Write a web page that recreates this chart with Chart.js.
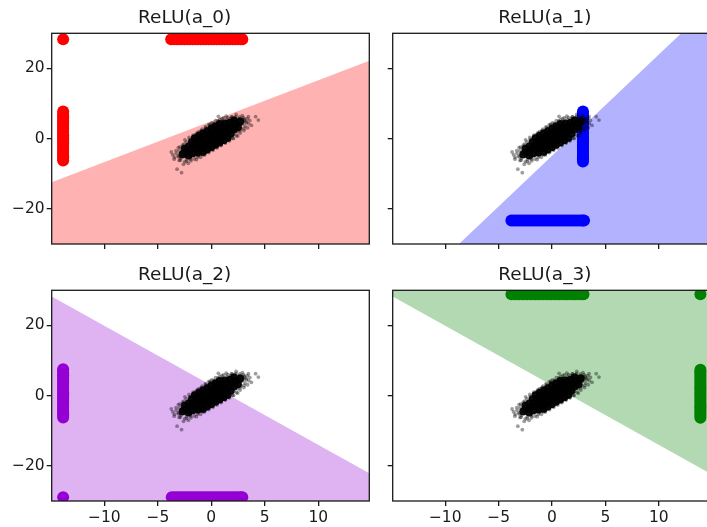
<!DOCTYPE html>
<html>
<head>
<meta charset="utf-8">
<title>ReLU regions</title>
<script src="https://cdn.jsdelivr.net/npm/chart.js@4.4.1/dist/chart.umd.min.js"></script>
<style>
  html, body { margin: 0; padding: 0; width: 707px; height: 527px; overflow: hidden; background: #fff; }
  canvas { position: absolute; }
</style>
</head>
<body>
<canvas id="relu0" width="380" height="272" style="left:0px;top:0px"></canvas>
<canvas id="relu1" width="345" height="272" style="left:380px;top:0px"></canvas>
<canvas id="relu2" width="380" height="272" style="left:0px;top:257.4px"></canvas>
<canvas id="relu3" width="345" height="272" style="left:380px;top:257.4px"></canvas>
<script>
"use strict";

const titles = ['ReLU(a_0)', 'ReLU(a_1)', 'ReLU(a_2)', 'ReLU(a_3)'];
const xTicks = [-10, -5, 0, 5, 10];
const yTicks = [-20, 0, 20];
const xRange = [-14.92, 14.77];
const yRange = [-30, 30];

// input cloud, same in every panel (dense middle + loose edge)
const cloudCore = [
    [-2.70, -4.50],
    [-2.50, -2.85], [-2.31, -3.83], [-2.12, -4.81],
    [-2.12, -2.18], [-1.93, -3.16], [-1.74, -4.14],
    [-1.82, -1.01], [-1.63, -2.00], [-1.45, -2.98], [-1.26, -3.97],
    [-1.54, 0.16], [-1.35, -0.83], [-1.16, -1.81], [-0.97, -2.79], [-0.78, -3.78],
    [-1.15, 0.83], [-0.96, -0.16], [-0.77, -1.14], [-0.58, -2.12], [-0.39, -3.11],
    [-0.77, 1.50], [-0.58, 0.51], [-0.39, -0.47], [-0.20, -1.45], [-0.01, -2.44],
    [-0.38, 2.17], [-0.19, 1.18], [0.00, 0.20], [0.19, -0.78], [0.38, -1.77],
    [0.01, 2.84], [0.20, 1.85], [0.39, 0.87], [0.58, -0.11], [0.77, -1.10],
    [0.39, 3.51], [0.58, 2.52], [0.77, 1.54], [0.96, 0.56], [1.15, -0.43],
    [0.78, 4.18], [0.97, 3.19], [1.16, 2.21], [1.35, 1.23], [1.54, 0.24],
    [1.26, 4.37], [1.45, 3.38], [1.63, 2.40], [1.82, 1.41],
    [1.74, 4.54], [1.93, 3.56], [2.12, 2.58],
    [2.12, 5.21], [2.31, 4.23], [2.50, 3.25],
    [2.70, 4.90]
];
const cloudHalo = [
    [-1.39, -5.99], [-2.47, -0.33], [-1.00, -5.32], [-2.08, 0.34], [-0.62, -4.64], [-1.70, 1.02],
    [-0.23, -3.97], [-1.31, 1.69], [0.15, -3.30], [-0.93, 2.36], [0.54, -2.63], [-0.54, 3.03],
    [0.93, -1.96], [-0.15, 3.70], [1.31, -1.29], [0.23, 4.37], [1.70, -0.62], [0.62, 5.04],
    [2.08, 0.06], [1.00, 5.72], [2.47, 0.73], [1.39, 6.39],
    [-2.32, -6.47], [-3.08, -2.53], [-1.93, -5.80], [-2.69, -1.86], [2.69, 2.26], [1.93, 6.20],
    [3.08, 2.93], [2.32, 6.87], [3.09, 5.57], [-3.09, -5.17], [3.28, 4.59], [2.90, 6.55],
    [-2.90, -6.15], [-3.28, -4.19], [3.47, 6.24], [-3.47, -5.84],
    [-3.74, -3.8], [-3.6, -4.6], [-3.45, -5.3], [-3.3, -3.4], [-3.2, -8.7], [-2.78, -9.7], [-3.1, -4.9],
    [-3.0, -6.2], [-2.95, -2.4], [-2.85, -5.6], [-2.75, -3.9], [-2.6, -7.3], [-2.55, -1.6], [-2.5, -6.6],
    [-2.45, -4.8], [-2.35, -0.9], [-2.3, -5.9], [-2.2, -2.9], [-2.15, -7.0], [-2.05, -0.3], [-2.0, -5.2],
    [-1.9, -6.3], [-1.85, -1.8], [-1.75, 0.4], [-1.7, -4.9], [-1.6, -5.8], [-1.55, -0.2], [-1.45, 1.2],
    [-1.4, -4.4], [-1.3, -5.3], [-1.25, 0.8], [-1.15, 2.0], [-1.1, -4.0], [-1.0, -3.5], [-0.95, 1.6],
    [-0.85, 2.7], [-0.8, -4.6], [-0.7, -3.1], [-0.65, 2.2], [-0.55, 3.4], [-0.5, -3.7], [-0.4, -2.6],
    [-0.35, 3.0], [-0.25, 4.0], [-0.2, -3.2], [-0.1, -2.2], [0.0, 3.6], [0.05, 4.5], [0.15, -2.7],
    [0.25, -1.9], [0.3, 4.2], [0.4, 5.1], [0.5, -2.2], [0.6, -1.3], [0.66, 6.35], [0.7, 4.6], [0.8, 5.5],
    [0.9, -1.7], [1.0, -0.8], [1.05, 5.0], [1.15, 5.9], [1.25, -1.0], [1.35, -0.1], [1.45, 5.4],
    [1.55, 6.0], [1.6, -0.5], [1.7, 0.6], [1.8, 5.7], [1.9, 6.2], [2.0, 0.1], [2.1, 1.2], [2.2, 5.9],
    [2.3, 6.3], [2.35, 0.9], [2.45, 2.0], [2.55, 5.6], [2.65, 6.2], [2.7, 1.6], [2.8, 2.8], [2.9, 5.2],
    [3.0, 6.0], [3.05, 2.3], [3.15, 3.6], [3.25, 4.9], [3.35, 5.7], [3.4, 3.1], [3.5, 4.3], [3.6, 5.2],
    [3.75, 3.8], [4.14, 6.27], [4.4, 5.3],
    [-2.7, -4.4], [-2.6, -3.2], [-2.3, -4.0], [-2.1, -3.6], [-1.95, -2.5], [-1.7, -3.4], [-1.5, -1.1],
    [-1.3, -2.6], [-1.05, -0.2], [-0.9, -2.2], [-0.6, 0.9], [-0.45, -1.4], [-0.2, 1.9], [0.0, -0.5],
    [0.2, 2.8], [0.45, -0.3], [0.55, 3.3], [0.85, 0.3], [0.95, 3.9], [1.2, 0.9], [1.3, 4.3], [1.6, 1.6],
    [1.7, 4.9], [1.95, 2.2], [2.05, 5.2], [2.3, 2.9], [2.5, 4.9], [2.6, 3.4], [2.85, 4.1], [3.0, 4.6],
    [3.1, 5.3], [-3.0, -3.5], [-2.4, -2.2], [1.4, -0.4], [-1.2, -4.8], [2.75, 5.7], [-0.1, 4.1], [0.35, -1.6]
];

// ReLU(a_0): column at the left edge, band at the top, one dot in the corner
const redColumnX = -13.85;
const redColumnY = [-6.2, -5.6, -5.0, -4.4, -3.8, -3.2, -2.6, -2.0, -1.4, -0.8, -0.2, 0.4, 1.0, 1.6,
    2.2, 2.8, 3.4, 4.0, 4.6, 5.2, 5.8, 6.4, 7.0, 7.7];
const redBandY = 28.3;
const redBandX = [-3.75, -3.5, -3.25, -3.0, -2.75, -2.5, -2.25, -2.0, -1.75, -1.5, -1.25, -1.0, -0.75,
    -0.5, -0.25, 0, 0.25, 0.5, 0.75, 1.0, 1.25, 1.5, 1.75, 2.0, 2.25, 2.5, 2.75, 2.9];
const redCorner = [[-13.85, 28.3]];
const redBoundary = [[-14.92, -12.45], [14.77, 22.2]];

// ReLU(a_1)
const blueColumnX = 2.9;
const blueColumnY = [-6.5, -5.9, -5.3, -4.7, -4.1, -3.5, -2.9, -2.3, -1.7, -1.1, -0.5, 0.1, 0.7, 1.3,
    1.9, 2.5, 3.1, 3.7, 4.3, 4.9, 5.5, 6.1, 6.7, 7.2, 7.7];
const blueBandY = -23.3;
const blueBandX = [-3.8, -3.55, -3.3, -3.05, -2.8, -2.55, -2.3, -2.05, -1.8, -1.55, -1.3, -1.05, -0.8,
    -0.55, -0.3, -0.05, 0.2, 0.45, 0.7, 0.95, 1.2, 1.45, 1.7, 1.95, 2.2, 2.45, 2.7, 3.0];
const blueCorner = [[2.9, -23.3]];
const blueBoundary = [[-14.92, -47.9], [14.77, 37.7]];

// ReLU(a_2)
const purpleColumnX = -13.85;
const purpleColumnY = [-6.2, -5.6, -5.0, -4.4, -3.8, -3.2, -2.6, -2.0, -1.4, -0.8, -0.2, 0.4, 1.0, 1.6,
    2.2, 2.8, 3.4, 4.0, 4.6, 5.2, 5.8, 6.4, 7.0, 7.5];
const purpleBandY = -28.9;
const purpleBandX = [-3.7, -3.45, -3.2, -2.95, -2.7, -2.45, -2.2, -1.95, -1.7, -1.45, -1.2, -0.95, -0.7,
    -0.45, -0.2, 0.05, 0.3, 0.55, 0.8, 1.05, 1.3, 1.55, 1.8, 2.05, 2.3, 2.55, 2.75, 2.9];
const purpleCorner = [[-13.85, -28.9]];
const purpleBoundary = [[-14.92, 28.2], [14.77, -22.1]];

// ReLU(a_3)
const greenColumnX = 13.9;
const greenColumnY = [-6.3, -5.7, -5.1, -4.5, -3.9, -3.3, -2.7, -2.1, -1.5, -0.9, -0.3, 0.3, 0.9, 1.5,
    2.1, 2.7, 3.3, 3.9, 4.5, 5.1, 5.7, 6.3, 6.9, 7.4];
const greenBandY = 28.9;
const greenBandX = [-3.8, -3.55, -3.3, -3.05, -2.8, -2.55, -2.3, -2.05, -1.8, -1.55, -1.3, -1.05, -0.8,
    -0.55, -0.3, -0.05, 0.2, 0.45, 0.7, 0.95, 1.2, 1.45, 1.7, 1.95, 2.2, 2.45, 2.7, 2.95];
const greenCorner = [[13.9, 28.9]];
const greenBoundary = [[-14.92, 28.2], [14.77, -22.1]];

function column(x, ys) {
    return ys.map(function (y) { return [x, y]; });
}
function band(xs, y) {
    return xs.map(function (x) { return [x, y]; });
}

const panels = [
    {id: 'relu0', color: '#ff0000', shade: 'rgba(255,0,0,0.3)', boundary: redBoundary, side: 'start',
     marks: [column(redColumnX, redColumnY), band(redBandX, redBandY), redCorner], leftCol: true, bottomRow: false},
    {id: 'relu1', color: '#0000ff', shade: 'rgba(0,0,255,0.3)', boundary: blueBoundary, side: 'start',
     marks: [column(blueColumnX, blueColumnY), band(blueBandX, blueBandY), blueCorner], leftCol: false, bottomRow: false},
    {id: 'relu2', color: '#9400d3', shade: 'rgba(148,0,211,0.3)', boundary: purpleBoundary, side: 'start',
     marks: [column(purpleColumnX, purpleColumnY), band(purpleBandX, purpleBandY), purpleCorner], leftCol: true, bottomRow: true},
    {id: 'relu3', color: '#008000', shade: 'rgba(0,128,0,0.3)', boundary: greenBoundary, side: 'end',
     marks: [column(greenColumnX, greenColumnY), band(greenBandX, greenBandY), greenCorner], leftCol: false, bottomRow: true}
];

const FONT = 'DejaVu Sans';
const INK = '#1a1a1a';

function pts(arr) {
    return arr.map(function (p) { return {x: p[0], y: p[1]}; });
}

function minusSign(v) {
    return String(v).replace('-', '\u2212');
}

// axes box like matplotlib spines
const frame = {
    id: 'frame',
    afterDraw: function (chart) {
        const a = chart.chartArea;
        const ctx = chart.ctx;
        ctx.save();
        ctx.strokeStyle = INK;
        ctx.lineWidth = 1.3;
        ctx.strokeRect(a.left, a.top, a.right - a.left, a.bottom - a.top);
        ctx.restore();
    }
};

panels.forEach(function (p, i) {
    const ctx = document.getElementById(p.id).getContext('2d');
    const datasets = [];

    // shaded half plane where the unit is active
    datasets.push({
        type: 'line',
        data: pts(p.boundary),
        showLine: true,
        borderWidth: 0,
        pointRadius: 0,
        backgroundColor: p.shade,
        fill: p.side,
        order: 4
    });

    p.marks.forEach(function (m) {
        datasets.push({
            data: pts(m),
            pointRadius: 6,
            pointHoverRadius: 6,
            pointBorderWidth: 0,
            pointBackgroundColor: p.color,
            clip: 0,
            order: 3
        });
    });

    datasets.push({
        data: pts(cloudHalo),
        pointRadius: 1.9,
        pointHoverRadius: 1.9,
        pointBorderWidth: 0,
        pointBackgroundColor: 'rgba(0,0,0,0.38)',
        clip: 0,
        order: 2
    });
    datasets.push({
        data: pts(cloudCore),
        pointRadius: 3.9,
        pointHoverRadius: 3.9,
        pointBorderWidth: 0,
        pointBackgroundColor: 'rgba(0,0,0,0.95)',
        clip: 0,
        order: 1
    });

    new Chart(ctx, {
        type: 'scatter',
        data: {datasets: datasets},
        options: {
            responsive: false,
            animation: false,
            devicePixelRatio: 1,
            events: [],
            layout: {padding: {top: 0, left: 0, right: p.leftCol ? 10.7 : 15.3, bottom: 0}},
            plugins: {
                legend: {display: false},
                tooltip: {enabled: false},
                title: {
                    display: true,
                    text: titles[i],
                    color: INK,
                    font: {family: FONT, size: 18.5, weight: 'normal'},
                    padding: {top: 7.2, bottom: 3.9}
                }
            },
            scales: {
                x: {
                    type: 'linear',
                    min: xRange[0],
                    max: xRange[1],
                    afterBuildTicks: function (axis) {
                        axis.ticks = xTicks.map(function (v) { return {value: v}; });
                    },
                    afterFit: function (axis) { axis.height = 28; },
                    border: {display: false},
                    grid: {drawOnChartArea: false, drawTicks: true, tickLength: 5, color: INK, lineWidth: 1.3},
                    ticks: {
                        display: p.bottomRow,
                        color: INK,
                        padding: 3,
                        maxRotation: 0,
                        font: {family: FONT, size: 15.5},
                        callback: function (v) { return minusSign(v); }
                    }
                },
                y: {
                    type: 'linear',
                    min: yRange[0],
                    max: yRange[1],
                    afterBuildTicks: function (axis) {
                        axis.ticks = yTicks.map(function (v) { return {value: v}; });
                    },
                    afterFit: function (axis) { axis.width = p.leftCol ? 51.7 : 12.7; },
                    border: {display: false},
                    grid: {drawOnChartArea: false, drawTicks: true, tickLength: 5, color: INK, lineWidth: 1.3},
                    ticks: {
                        display: p.leftCol,
                        color: INK,
                        padding: 2,
                        font: {family: FONT, size: 15.5},
                        callback: function (v) { return minusSign(v); }
                    }
                }
            }
        },
        plugins: [frame]
    });
});
</script>
</body>
</html>
